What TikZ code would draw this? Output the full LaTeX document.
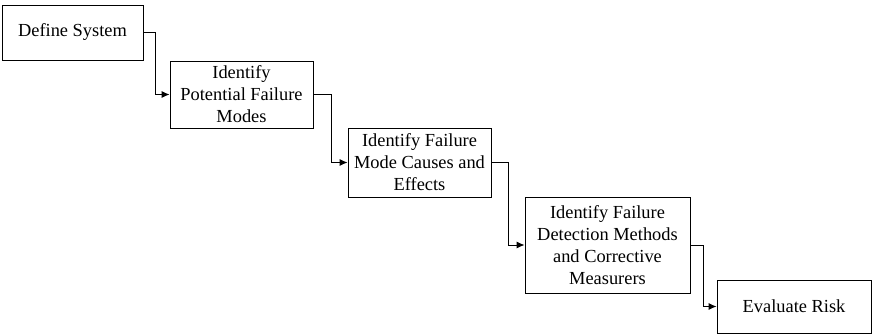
\documentclass[tikz,border=0pt]{standalone}
\usepackage{fontspec}
\setmainfont{Liberation Serif}
\usetikzlibrary{arrows.meta}
\begin{document}
\begin{tikzpicture}[x=1pt,y=-1pt,
  stepbox/.style={draw, line width=0.9pt, inner sep=0pt, align=center,
    font=\fontsize{18.4}{22}\selectfont, anchor=center},
  arr/.style={line width=0.9pt, -{Latex[length=8pt,width=7pt]}}]
\useasboundingbox (0,0) rectangle (874,335);
\node[stepbox, minimum width=141pt, minimum height=55pt] (b1) at (72.5,32.5) {Define System};
\node[stepbox, minimum width=143pt, minimum height=67pt] (b2) at (241.5,94.5) {Identify\\Potential Failure\\Modes};
\node[stepbox, minimum width=143pt, minimum height=69pt] (b3) at (419.5,162.5) {Identify Failure\\Mode Causes and\\Effects};
\node[stepbox, minimum width=165pt, minimum height=96pt] (b4) at (607.5,245) {Identify Failure\\Detection Methods\\and Corrective\\Measurers};
\node[stepbox, minimum width=154pt, minimum height=53pt] (b5) at (794,306.5) {Evaluate Risk};
\draw[arr] (b1.east) -- ++(12,0) |- (b2.west);
\draw[arr] (b2.east) -- ++(18,0) |- (b3.west);
\draw[arr] (b3.east) -- ++(17,0) |- (b4.west);
\draw[arr] (b4.east) -- ++(13,0) |- (b5.west);
\end{tikzpicture}
\end{document}
